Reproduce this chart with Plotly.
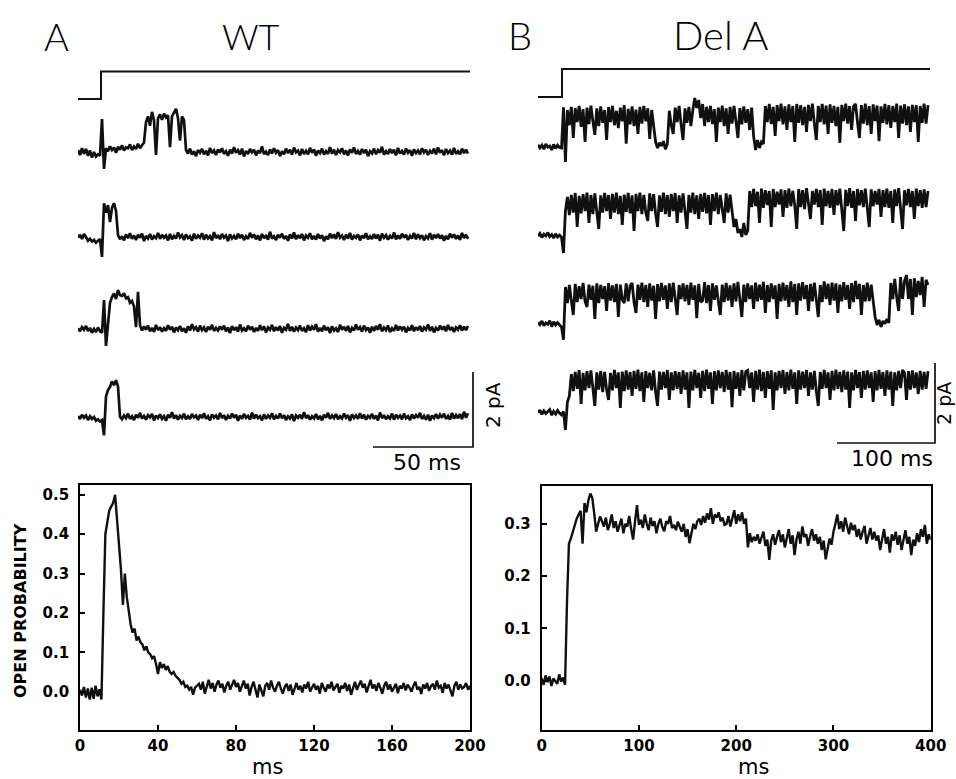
import numpy as np
import plotly.graph_objects as go

# ---------------- DATA ----------------
# Single-channel currents, fA relative to closed level.  WT: 1 ms samples, Del A: 2 ms samples
A1_fA = [50,-80,100,-50,80,-100,40,-150,0,-120,-60,-100,
         880,-450,
         100,20,150,50,120,-20,140,60,180,40,120,100,200,50,150,80,220,100,180,250,
         800,950,700,1070,850,-80,900,1000,860,1020,920,980,130,950,1050,1150,900,300,950,850,
         60,-40,90,-70,20,-110,50,-20,80,-60,30,-90,110,-30,40,-80,70,-10,100,-50,
         20,-100,60,-40,130,-20,50,-70,90,-120,30,-50,80,-10,60,-90,40,-30,150,-60,
         10,-80,70,-40,100,-20,50,-110,20,-60,90,-30,60,-70,120,-10,40,-90,80,-50,
         30,-60,110,-20,70,-100,40,-30,90,-70,20,-50,130,-40,60,-80,50,-10,100,-60,
         40,-90,70,-20,120,-50,30,-70,80,-30,60,-110,20,-40,90,-60,50,-20,140,-70,
         20,-50,80,-30,60,-90,110,-40,30,-70,90,-20,50,-100,70,-30,40,-60,100,-10,
         60,-80,30,-40,90,-60,120,-20,50,-90,80,-30,40,-70,110,-50,20,-60,90,-30,60,-40]
A2_fA = [-20,60,-50,80,0,-100,-50,-120,-80,-150,-100,-50,
         -530,
         900,650,850,400,780,900,700,
         50,-60,20,-90,70,-30,100,-50,40,-80,60,-20,90,-110,30,-40,80,-70,20,-30,
         110,-50,60,-20,40,-90,80,-60,30,-40,120,-10,50,-80,70,-30,20,-100,90,-50,
         40,-20,100,-70,60,-40,20,-90,130,-30,50,-60,80,-20,40,-110,70,-40,30,-60,
         90,-30,60,-80,20,-50,110,-20,70,-60,40,-90,80,-30,50,-70,140,-40,20,-80,
         60,-20,90,-50,30,-100,70,-40,120,-60,50,-30,80,-90,40,-20,100,-60,30,-70,
         80,-40,50,-110,20,-60,90,-30,70,-50,130,-20,40,-80,60,-40,110,-70,30,-20,
         70,-90,40,-30,100,-60,20,-50,80,-40,60,-100,90,-20,50,-70,30,-40,120,-60,
         40,-50,90,-20,60,-80,30,-40,110,-60,70,-30,50,-90,20,-40,100,-70,60,-30,
         80,-40,50,-100,30,-60,90,-20,70,-50,40,-80,110,-30,60,-50]
A3_fA = [20,-60,50,-20,80,-50,30,-100,0,-80,40,-60,-100,
         770,-450,100,
         700,850,950,800,1040,900,880,950,820,850,700,750,600,
         50,990,100,
         -40,70,-20,90,-60,30,-80,110,-30,50,-70,20,-50,100,-20,60,-90,40,-30,80,
         -60,20,-100,70,-40,130,-10,50,-70,90,-30,40,-80,60,-20,110,-50,30,-40,70,
         -20,90,-60,40,-110,80,-30,50,-70,120,-40,20,-60,90,-20,60,-80,30,-50,100,
         -30,70,-90,40,-20,110,-60,50,-40,80,-100,30,-20,140,-50,60,-70,40,-30,90,
         -50,20,-80,100,-40,60,-20,130,-70,30,-60,90,-30,50,-110,70,-40,20,-80,110,
         -20,60,-50,80,-90,30,-40,120,-20,50,-70,90,-30,40,-100,60,-50,80,-20,130,
         -60,40,-30,90,-80,20,-50,110,-40,70,-20,60,-90,30,-40,100,-60,50,-30,80,
         -70,40,-20,120,-50,60,-90,30,-40,90,-20,70,-60,110,-30,50,-80,40,-20,100,
         -40,60,-30,80]
A4_fA = [30,-50,60,-20,40,-80,20,-50,0,-100,-60,-120,-80,
         -490,
         550,720,800,950,850,980,820,
         0,-60,40,-30,90,-50,20,-80,60,-20,110,-40,30,-70,50,-10,80,-90,40,-30,
         70,-50,20,-100,60,-20,130,-40,50,-70,30,-30,90,-60,20,-50,80,-10,40,-80,
         60,-30,100,-50,20,-90,70,-20,40,-60,110,-30,50,-80,30,-40,90,-20,60,-100,
         40,-50,80,-20,30,-70,120,-40,60,-30,20,-90,70,-50,40,-20,100,-60,30,-40,
         90,-30,50,-80,20,-40,70,-110,40,-20,60,-50,130,-30,50,-70,20,-40,80,-60,
         30,-90,60,-20,110,-50,40,-30,80,-60,20,-40,90,-20,50,-100,70,-30,40,-50,
         100,-40,60,-70,30,-20,80,-50,40,-90,120,-30,50,-60,20,-40,90,-70,60,-20,
         40,-60,90,-30,20,-80,70,-40,50,-20,110,-50,30,-70,60,-100,40,-30,80,-40,
         60,-20,90,-50,30,-70,110,-40,50,-30,80,-60,140,-20,100]

B1_fA = [30,-50,20,-80,50,-30,0,-100,40,-60,20,-40,-50,
         970,-400,
         900,520,980,200,950,600,1000,480,920,100,960,550,1010,620,280,940,500,990,580,900,
         150,970,600,1000,520,880,450,960,620,1020,60,930,540,990,500,910,300,980,560,1000,
         620,940,180,900,540,
         100,-50,80,0,120,-80,50,
         880,520,300,960,600,1000,540,150,940,580,980,500,900,
         1200,950,1150,700,1050,500,980,600,
         1000,550,920,100,960,600,1010,500,940,300,980,560,1000,620,200,950,540,990,580,920,400,960,
         250,-100,150,-50,100,50,
         1000,600,1050,550,980,250,1020,620,1060,540,990,400,1040,600,1000,100,1050,580,1020,520,
         980,350,1030,620,1060,560,150,1000,600,1050,540,1010,300,1040,580,1000,500,980,80,1030,
         620,1060,560,1000,400,990,1050,600,200,1020,560,1060,520,1000,300,1040,620,1010,120,990,
         580,1050,540,1020,450,1000,600,1060,200,1010,560,1040,520,990,350,1030,600,1020,100,1000,
         580,1060,560,1020]
B2_fA = [-30,40,-60,20,-20,60,-40,10,-80,30,-50,0,-60,
         -450,
         600,950,500,1000,560,1050,200,980,540,1020,600,1060,300,1000,520,1040,580,150,990,560,
         1050,600,1000,400,1030,560,1060,520,980,250,1010,580,1050,540,990,100,1030,600,1060,520,
         1000,560,350,1040,600,1020,540,200,990,580,1060,520,1000,450,1030,600,1050,300,990,560,
         1040,600,150,1000,560,1060,520,990,400,1030,580,1050,540,1000,250,1020,600,1060,520,1000,
         580,300,1040,560,1010,600,
         200,400,50,150,-50,300,0,100,
         1100,700,1150,720,1080,300,1160,680,1120,750,1100,200,1150,700,1080,760,1140,450,1120,680,
         1160,720,1100,740,150,1150,700,1120,650,1170,720,400,1100,760,1150,700,1120,250,1160,720,
         1100,680,1150,500,1120,740,1160,700,100,1130,720,1170,680,1100,350,1150,740,1120,700,1160,
         680,200,1140,720,1100,760,1150,450,1120,700,1160,680,1100,300,1140,720,1170,700,150,1120,
         740,1150,700,1100,400,1160,720,1120,680,1140,700,1100]
B3_fA = [20,-40,50,-70,0,-30,60,-90,30,-50,10,-60,-100,
         -420,
         900,500,950,560,200,980,520,920,600,1000,540,400,960,580,930,100,990,500,950,600,
         920,300,1000,560,940,520,980,150,960,580,500,990,540,930,1000,520,250,960,580,1010,
         520,950,400,990,560,930,100,970,540,1000,580,940,350,990,520,1010,560,200,950,600,
         990,540,950,450,1010,580,940,120,980,520,560,1020,500,950,300,990,580,940,550,200,
         960,520,1000,560,940,400,990,540,1030,580,150,960,520,990,600,940,350,1010,540,960,
         580,1030,250,950,520,990,600,940,100,980,540,1010,560,950,400,1040,520,980,200,990,
         560,1020,600,950,300,980,540,1010,580,150,950,520,1040,600,980,450,1010,560,990,250,
         960,540,1020,580,950,350,1000,520,1050,600,980,200,950,540,1010,550,960,580,
         150,-50,80,-100,50,-20,100,0,
         1000,600,1100,650,300,1150,600,1050,1200,600,1100,200,1120,650,1050,700,1150,400,1080,950]
B4_fA = [-20,50,-60,30,-40,0,60,-80,20,-50,40,-30,-70,10,
         -450,
         250,400,
         950,520,1000,580,1050,200,980,540,1020,600,1040,500,150,990,560,1030,500,1000,560,300,
         980,540,1050,600,990,100,1010,520,1040,560,1000,400,1030,580,1060,520,990,250,1020,600,
         980,540,1040,500,150,1010,560,1000,600,1050,300,990,540,1020,580,1000,450,1040,560,990,
         100,1010,540,1050,600,980,350,1030,520,1060,580,990,200,1020,540,1040,600,1000,500,1050,
         560,1000,120,1030,580,990,400,1050,540,1010,1040,600,990,250,1030,560,1060,520,1000,350,
         1020,580,1040,50,990,540,1030,600,1050,450,1000,540,1060,580,990,200,1040,560,1010,600,
         1050,400,990,560,1030,520,150,1000,580,1050,600,990,300,1030,540,1060,580,1000,500,1040,
         560,1010,100,990,540,1050,600,1000,350,1030,560,1040,600,990,250,1020,540,1050,580,1000,
         400,1040,560,1010,150,990,540,1030,600,1050,980,300,1020,560,1040,600,990,450,1030,560,
         1000,580,1020]

# Open probability (x1000). WT: 1 ms bins 0-200 ms; Del A: 2 ms bins 0-400 ms
PoA_permille = [5,-10,12,-15,8,-20,10,-18,15,-12,6,-20,
    200,400,430,460,470,480,500,440,380,310,220,300,240,200,170,150,160,130,140,125,
    120,105,115,100,95,85,90,70,45,75,60,70,55,65,50,45,50,40,35,30,20,25,12,15,5,12,-8,10,15,
    20,5,25,-5,15,30,8,22,0,18, 28,10,20,-2,15,25,5,18,30,12, 22,0,15,28,8,20,-10,12,25,5,
    -15,18,2,-12,15,22,5,28,10,0, 15,25,8,-5,12,20,2,18,-8,10, 22,5,15,-2,18,8,25,0,12,20,
    5,15,-5,22,10,0,18,8,25,3, 12,20,-3,15,8,22,2,18,-8,12, 25,5,15,28,10,20,-2,15,30,8,
    18,2,22,10,-5,15,25,5,18,0, 12,20,-4,15,8,22,3,18,10,0, 15,25,5,12,-6,18,8,22,2,14,
    20,5,28,10,15,-3,22,8,18,0, -12,15,25,5,18,8,12,22,5,15]
PoB_permille = [5,-8,10,-3,8,-10,4,0,-6,12,-2,6,-8,
    150,262,272,285,300,310,318,325,262,340,322,345,358,350,320,285,300,314,
    305,295,312,288,300,318,292,305,285,298, 310,282,300,295,315,290,270,305,336,298,
    308,292,318,300,288,312,296,305,282,300, 310,294,286,305,300,315,292,298,288,304,
    296,285,300,275,290,263,282,300,290,305, 310,298,315,302,320,308,330,300,318,312,
    322,305,312,298,300,315,295,308,326,300, 318,305,322,300,310,
    255,282,265,275,268,
    280,262,275,285,258,270,231,268,280,260, 275,288,265,280,255,272,290,262,278,240,
    270,285,262,295,275,280,258,276,290,268, 280,262,275,250,268,232,255,272,260,285,
    300,318,290,305,285,312,296,280,302,288, 298,275,290,270,285,296,262,280,292,270,
    285,268,278,250,272,290,262,275,245,280, 268,285,260,278,250,272,288,262,275,240,
    270,258,282,265,290,275,298,262,280,270]

# Voltage protocol (mV) and step times (ms)
stimA_t = [0, 11.5, 11.5, 196]
stimB_t = [0, 24.5, 24.5, 400]
stim_mV = [-120, -120, -20, -20]

# Scale bars
barA_ms, barB_ms, bar_pA = 50, 100, 2

xticksA = [0, 40, 80, 120, 160, 200]
xticksB = [0, 100, 200, 300, 400]
yticksA = [0.0, 0.1, 0.2, 0.3, 0.4, 0.5]
yticksB = [0.0, 0.1, 0.2, 0.3]

# ---------------- LAYOUT HELPERS ----------------
W, H = 956, 779
def px(x): return x / W
def py(y): return 1 - y / H

INK = "#101010"
fig = go.Figure()

A_PXMS, A_PXPA, A_BOT = 2.0, 37.5, 470
A_base_px = [152, 237, 329, 417]
for vals, bpx in zip([A1_fA, A2_fA, A3_fA, A4_fA], A_base_px):
    off = (A_BOT - bpx) / A_PXPA
    t = np.arange(len(vals)) * 1.0
    fig.add_trace(go.Scatter(x=t, y=off + np.array(vals) / 1000.0, mode="lines",
                             line=dict(color=INK, width=2.7), xaxis="x3", yaxis="y3",
                             hoverinfo="skip", showlegend=False))
B_PXMS, B_PXPA, B_BOT = 0.98, 40.0, 470
B_base_px = [146, 235, 323, 412]
for vals, bpx in zip([B1_fA, B2_fA, B3_fA, B4_fA], B_base_px):
    off = (B_BOT - bpx) / B_PXPA
    t = np.arange(len(vals)) * 2.0
    fig.add_trace(go.Scatter(x=t, y=off + np.array(vals) / 1000.0, mode="lines",
                             line=dict(color=INK, width=2.8), xaxis="x4", yaxis="y4",
                             hoverinfo="skip", showlegend=False))

fig.add_trace(go.Scatter(x=stimA_t, y=stim_mV, mode="lines", line=dict(color=INK, width=2),
                         xaxis="x3", yaxis="y5", hoverinfo="skip", showlegend=False))
fig.add_trace(go.Scatter(x=stimB_t, y=stim_mV, mode="lines", line=dict(color=INK, width=2),
                         xaxis="x4", yaxis="y6", hoverinfo="skip", showlegend=False))

ax_t = (473 - 78) / A_PXMS
ax_y = (A_BOT - 447) / A_PXPA
fig.add_trace(go.Scatter(x=[ax_t - barA_ms, ax_t, ax_t], y=[ax_y, ax_y, ax_y + bar_pA],
                         mode="lines", line=dict(color=INK, width=1.7), xaxis="x3", yaxis="y3",
                         hoverinfo="skip", showlegend=False))
bx_t = (935 - 538) / B_PXMS
bx_y = (B_BOT - 443) / B_PXPA
fig.add_trace(go.Scatter(x=[bx_t - barB_ms, bx_t, bx_t], y=[bx_y, bx_y, bx_y + bar_pA],
                         mode="lines", line=dict(color=INK, width=1.7), xaxis="x4", yaxis="y4",
                         hoverinfo="skip", showlegend=False))

fig.add_trace(go.Scatter(x=np.arange(len(PoA_permille)) * 1.0, y=np.array(PoA_permille) / 1000.0,
                         mode="lines", line=dict(color=INK, width=2.4), xaxis="x", yaxis="y",
                         hoverinfo="skip", showlegend=False))
fig.add_trace(go.Scatter(x=np.arange(len(PoB_permille)) * 2.0, y=np.array(PoB_permille) / 1000.0,
                         mode="lines", line=dict(color=INK, width=2.4), xaxis="x2", yaxis="y2",
                         hoverinfo="skip", showlegend=False))

tickfont = dict(family="DejaVu Sans", size=15, color="black", weight="bold")
def frame(**kw):
    d = dict(showline=True, mirror=True, linecolor="black", linewidth=1.8, ticks="inside",
             ticklen=5, tickwidth=1.5, tickcolor="black", showgrid=False, zeroline=False,
             tickfont=tickfont, automargin=False, ticklabelstandoff=1)
    d.update(kw)
    return d

hidden = dict(visible=False, showgrid=False, zeroline=False, automargin=False)

fig.update_layout(
    width=W, height=H, margin=dict(l=0, r=0, t=0, b=0, pad=0, autoexpand=False), autosize=False,
    paper_bgcolor="white", plot_bgcolor="rgba(0,0,0,0)",
    xaxis=frame(domain=[px(80), px(470)], range=[0, 200], tickvals=xticksA, anchor="y"),
    yaxis=frame(domain=[py(730), py(485)], range=[-0.0975, 0.525], tickvals=yticksA,
                tickformat=".1f", anchor="x", ticklabelstandoff=6),
    xaxis2=frame(domain=[px(541.7), px(930.7)], range=[0, 400], tickvals=xticksB, anchor="y2"),
    yaxis2=frame(domain=[py(730), py(485.7)], range=[-0.0944, 0.373], tickvals=yticksB,
                 tickformat=".1f", anchor="x2", ticklabelstandoff=6),
    xaxis3=dict(hidden, domain=[px(78), px(478)], range=[0, 400 / A_PXMS], anchor="y3"),
    yaxis3=dict(hidden, domain=[py(470), py(60)], range=[0, 410 / A_PXPA], anchor="x3"),
    xaxis4=dict(hidden, domain=[px(538), px(938)], range=[0, 400 / B_PXMS], anchor="y4"),
    yaxis4=dict(hidden, domain=[py(470), py(55)], range=[0, 415 / B_PXPA], anchor="x4"),
    yaxis5=dict(hidden, domain=[py(110), py(60)], range=[-120 - 11 / 0.275, -120 + 39 / 0.275], anchor="x3"),
    yaxis6=dict(hidden, domain=[py(110), py(55)], range=[-120 - 13 / 0.28, -120 + 42 / 0.28], anchor="x4"),
)

def txt(s, x, y, size, angle=0, weight="normal", family="DejaVu Sans"):
    return dict(text=s, x=px(x), y=py(y), xref="paper", yref="paper", showarrow=False,
                xanchor="center", yanchor="middle", textangle=angle,
                font=dict(family=family, size=size, color="black", weight=weight))

fig.update_layout(annotations=[
    txt("A", 56, 36, 38, weight=300, family="Lato"), txt("WT", 251, 36, 36, weight=300, family="Lato"),
    txt("B", 520, 35, 38, weight=300, family="Lato"), txt("Del A", 721, 35, 40, weight=300, family="Lato"),
    txt("50 ms", 427, 462, 22), txt("100 ms", 892, 458, 22),
    txt("2 pA", 493, 405, 20, angle=-90), txt("2 pA", 944, 404, 19, angle=-90),
    txt("ms", 267, 767, 21), txt("ms", 753, 767, 21),
    txt("OPEN PROBABILITY", 20, 611, 16, angle=-90, weight="bold"),
])

fig.write_html("out.html", config={"displayModeBar": False, "responsive": False},
               post_script="document.body.style.margin='0';document.body.style.overflow='hidden';"
                           "document.documentElement.style.overflow='hidden';")
